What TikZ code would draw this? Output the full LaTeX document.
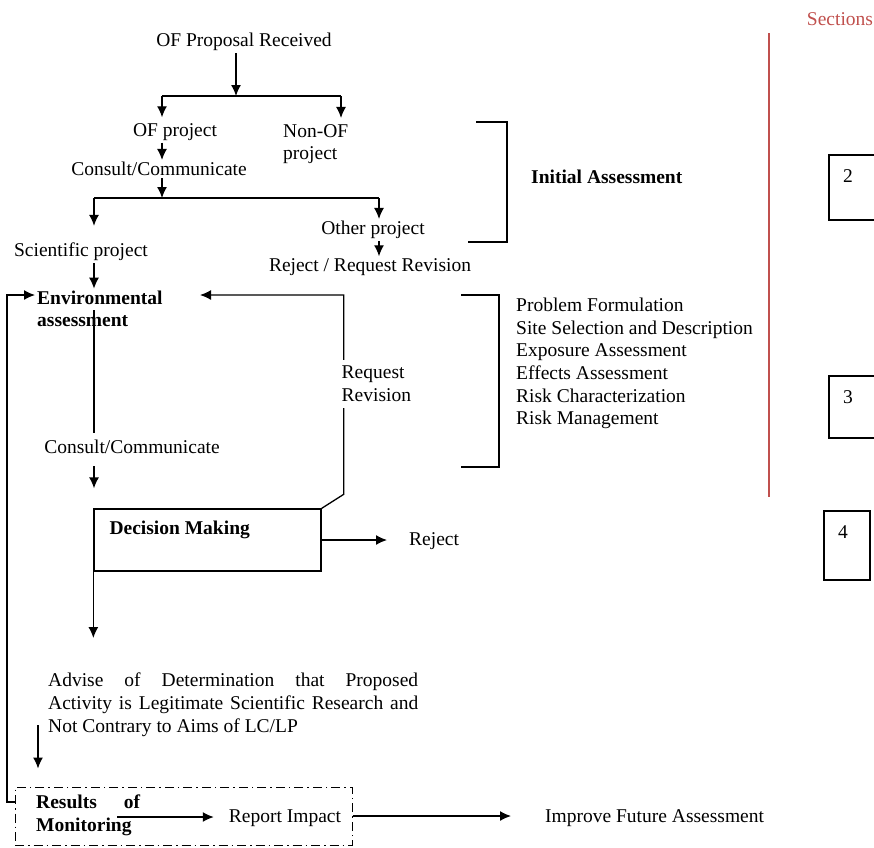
\documentclass[tikz,border=0pt]{standalone}
\usepackage{fontspec}
\setmainfont{Liberation Serif}
\usetikzlibrary{arrows.meta,calc}
\definecolor{sectionred}{RGB}{192,80,77}
\tikzset{
  txt/.style={inner sep=2pt, font=\fontsize{19.5}{22.6}\selectfont},
  boldtxt/.style={txt, font=\fontsize{19.5}{22.6}\selectfont\bfseries},
  link/.style={line width=1.3pt},
  flow/.style={link, -{Latex[length=11pt,width=10pt]}},
  monbox/.style={draw, line width=1pt, dash pattern=on 9pt off 4pt on 1.5pt off 4pt},
}

\begin{document}
\begin{tikzpicture}[x=1pt,y=-1pt]
  \useasboundingbox (0,0) rectangle (874,847);

  % initial assessment
  \node[txt] (prop) at (244,42) {OF Proposal Received};
  \coordinate (s1) at (236,96);
  \coordinate (s1l) at (162,96);
  \coordinate (s1r) at (341,96);
  \node[txt] (ofp) at (175,132) {OF project};
  \node[txt, anchor=west, align=left] (nonof) at (281,144) {Non-OF\\project};
  \node[txt] (cc1) at (159,169) {Consult/Communicate};
  \coordinate (s2) at (162,198);
  \coordinate (s2l) at (94,198);
  \coordinate (s2r) at (379,198);
  \node[txt] (sci) at (81,252) {Scientific project};
  \node[txt] (oth) at (373,230) {Other project};
  \node[txt] (rej1) at (370,267) {Reject / Request Revision};

  \draw[flow] (prop.south -| s1) -- (s1);
  \draw[link] (s1l) -- (s1r);
  \draw[flow, shorten >=4pt] (s1l) -- (ofp.north -| s1l);
  \draw[flow, shorten >=4pt] (s1r) -- (nonof.north -| s1r);
  \draw[flow] (ofp.south -| s1l) -- (cc1.north -| s1l);
  \draw[flow] (cc1.south -| s2) -- (s2);
  \draw[link] (s2l) -- (s2r);
  \draw[flow, shorten >=15pt] (s2l) -- (sci.north -| s2l);
  \draw[flow] (s2r) -- (oth.north -| s2r);
  \draw[flow] (oth.south -| s2r) -- (rej1.north -| s2r);

  % environmental assessment
  \node[boldtxt, anchor=west, align=left] (env) at (35,309) {Environmental\\assessment};
  \coordinate (envin) at (35,295);
  \coordinate (envc) at (94,310);
  \coordinate (envrr) at (200,295);
  \draw[flow] (sci.south -| s2l) -- (env.north -| s2l);
  \node[txt] (cc2) at (132,447) {Consult/Communicate};
  \draw[link, shorten >=5pt] (envc) -- (cc2.north -| envc);

  \node[draw, link, minimum width=227pt, minimum height=62pt, inner sep=0] (dec) at (207.5,540) {};
  \node[boldtxt, anchor=west] (declbl) at ($(dec.north west)+(14,22)$) {Decision Making};
  \draw[flow, shorten <=10pt, shorten >=20pt] (cc2.south -| envc) -- (dec.north -| envc);

  \draw[flow] (dec.north east) -- ++(22,-14) |- (envrr);
  \node[txt, fill=white, align=left, anchor=west, inner xsep=1pt, inner ysep=6pt] (rr) at (340.5,384) {Request\\Revision};

  \node[txt, anchor=west] (rejd) at (407,541) {Reject};
  \draw[flow, shorten >=20pt] (dec.east) -- (rejd.west |- dec.east);

  % determination and monitoring
  \node[txt, anchor=north west, text width=370pt, align=justify, inner sep=0] (adv) at (48,673)
    {Advise of Determination that Proposed\linebreak Activity is Legitimate Scientific Research and\linebreak Not Contrary to Aims of LC/LP};
  \draw[flow, shorten >=35pt] (dec.south west) -- (adv.north -| dec.south west);

  \node[monbox, minimum width=337pt, minimum height=58pt, inner sep=0] (res) at (183.5,816) {};
  \coordinate (adva) at (38,725);
  \draw[flow, shorten >=18pt] (adva) -- (adva |- res.north);

  \node[boldtxt, anchor=west, text width=104pt, align=justify, inner sep=0] (resm) at (36,815) {Results of\linebreak Monitoring};
  \node[txt] (rimp) at (285,818) {Report Impact};
  \coordinate (rstart) at (117,817);
  \draw[flow, shorten >=13pt] (rstart) -- (rimp.west |- rstart);

  \node[txt, anchor=west] (imp) at (543,818) {Improve Future Assessment};
  \draw[flow, shorten >=32pt] (res.east) -- (imp.west |- res.east);

  \coordinate (fbk) at (15,802);
  \draw[flow] (fbk) -- ++(-8,0) |- (envin);

  % brackets
  \draw[link] (476,122) -| (507,242) -- (468,242);
  \node[boldtxt, anchor=west] (init) at (529,177) {Initial Assessment};
  \draw[link] (461,295) -| (499,467) -- (461,467);
  \node[txt, anchor=north west, align=left, inner sep=0] (steps) at (516,298)
    {Problem Formulation\\Site Selection and Description\\Exposure Assessment\\Effects Assessment\\Risk Characterization\\Risk Management};

  % sections
  \draw[sectionred, line width=1.3pt] (769,33) -- (769,497);
  \node[txt, text=sectionred] (sec) at (840,19) {Sections};
  \draw[link] (874,155) -| (829,220) -- (874,220);
  \node[txt] (n2) at (848,176) {2};
  \draw[link] (874,376) -| (829,438) -- (874,438);
  \node[txt] (n3) at (848,397) {3};
  \draw[link] (824,511) rectangle (870,580);
  \node[txt] (n4) at (843,532) {4};
\end{tikzpicture}
\end{document}
